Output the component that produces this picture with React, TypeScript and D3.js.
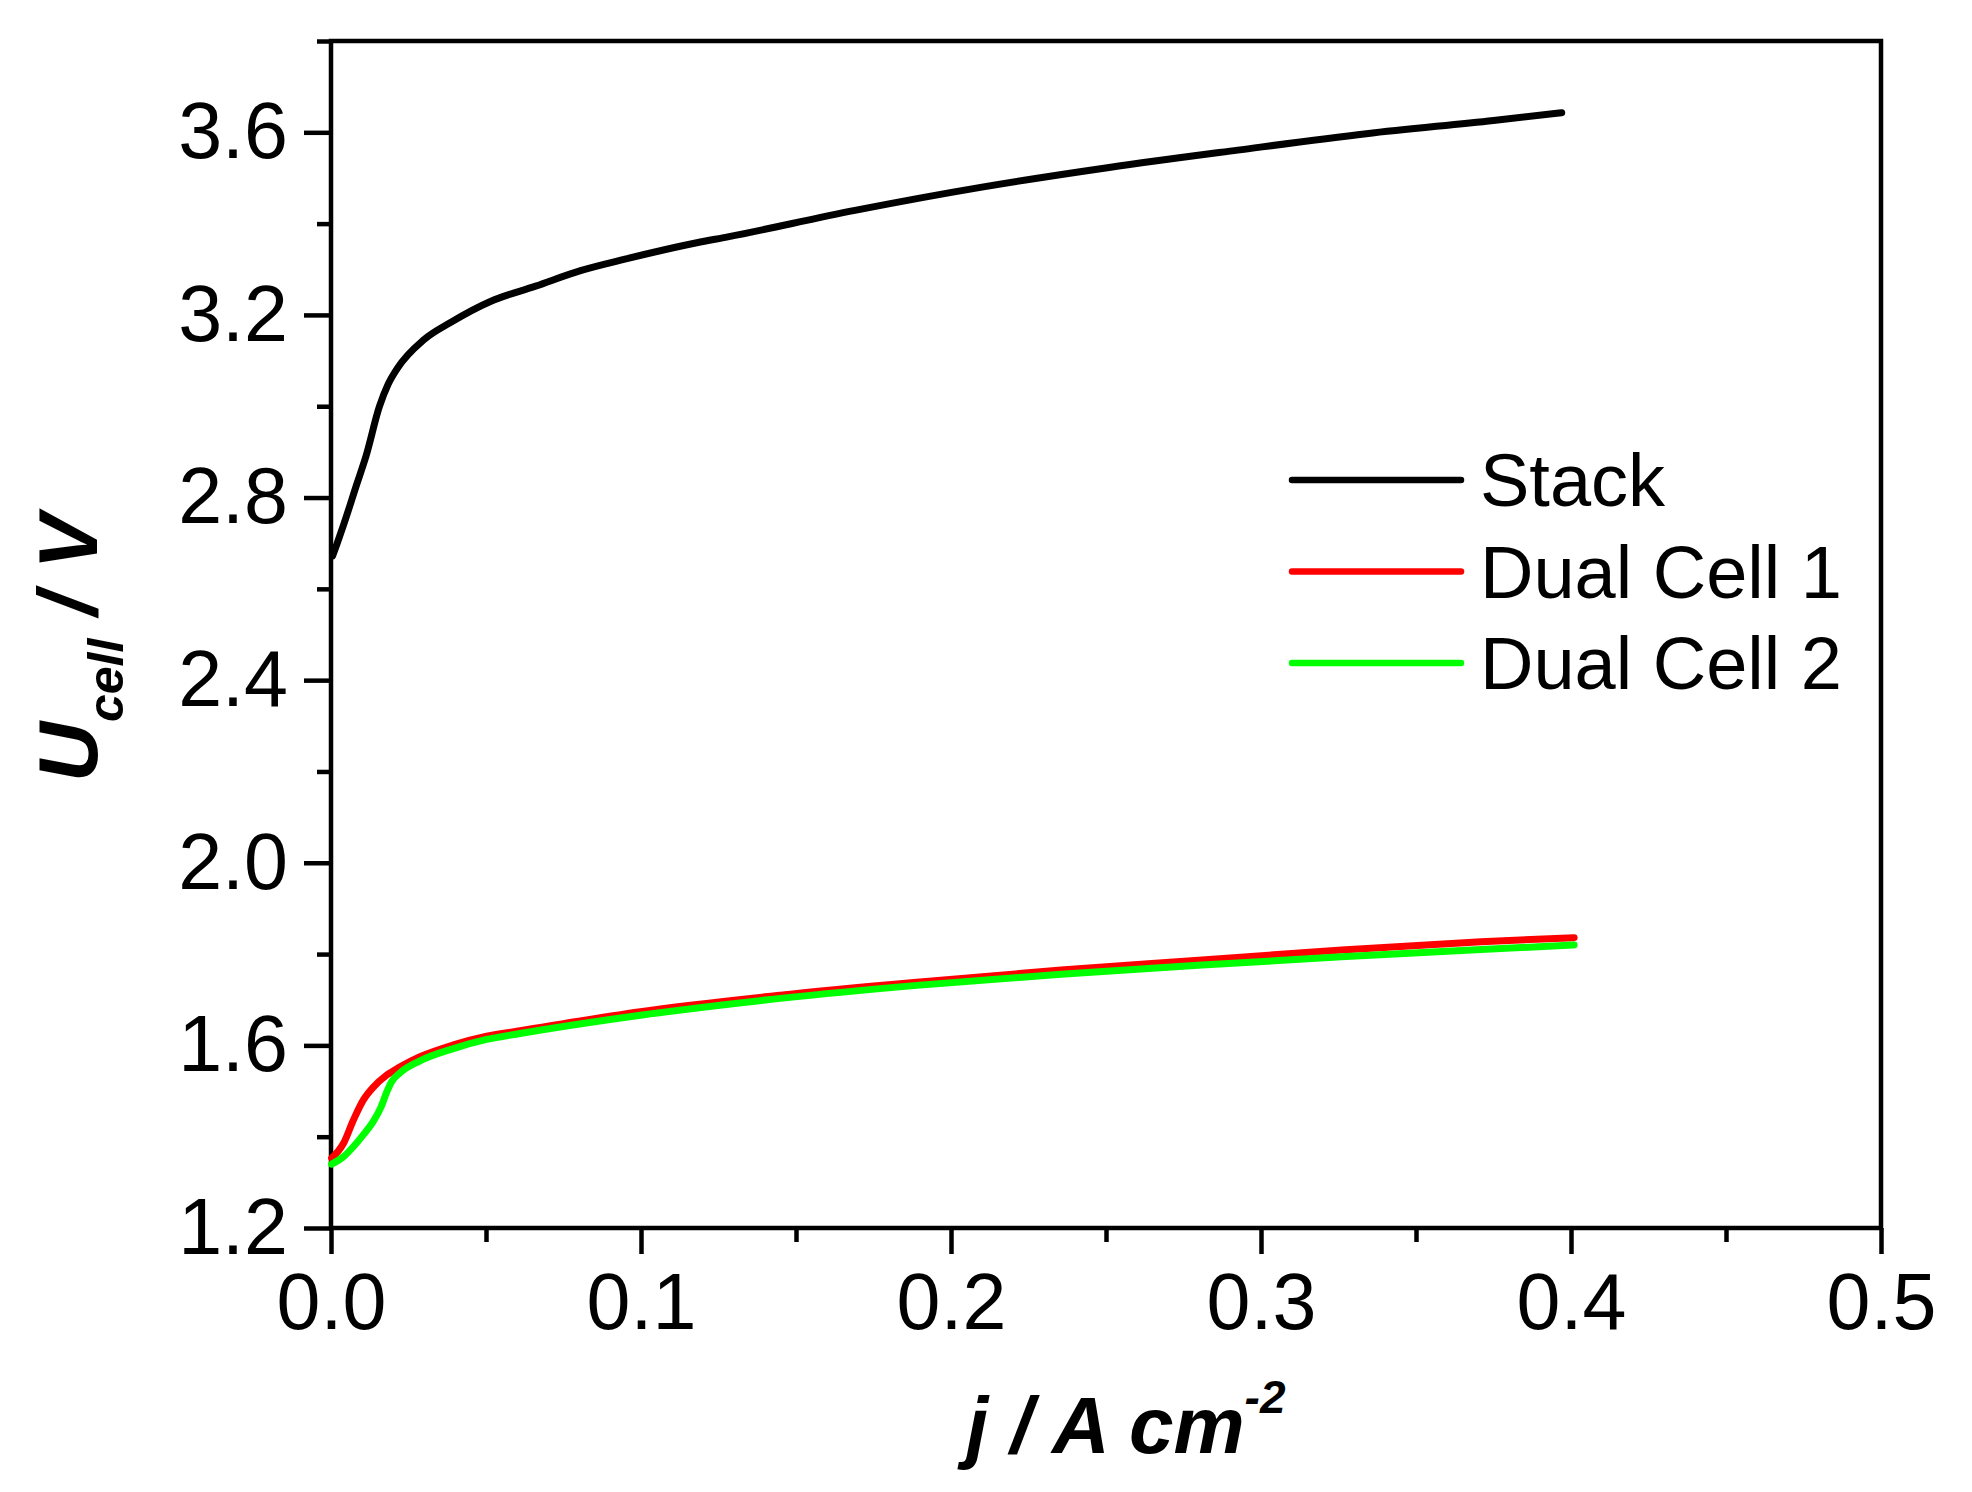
import { useEffect, useRef } from 'react';
import * as d3 from 'd3';

// Stack (black)
const stackJ = [0.0005, 0.002, 0.004, 0.0084, 0.0113, 0.0156, 0.0185, 0.0214, 0.03, 0.0387, 0.0516, 0.066, 0.0805, 0.0948, 0.118, 0.128, 0.169, 0.21, 0.251, 0.2925, 0.334, 0.375, 0.397];
const stackU = [2.672, 2.7, 2.739, 2.831, 2.891, 2.999, 3.049, 3.083, 3.146, 3.184, 3.23, 3.263, 3.297, 3.322, 3.358, 3.371, 3.429, 3.48, 3.523, 3.561, 3.597, 3.626, 3.643];

// Dual Cell 1 (red)
const cell1J = [0.0002, 0.004, 0.0072, 0.0104, 0.0136, 0.018, 0.0223, 0.0287, 0.0395, 0.0502, 0.061, 0.0998, 0.145, 0.19, 0.2355, 0.281, 0.326, 0.371, 0.401];
const cell1U = [1.353, 1.385, 1.436, 1.48, 1.508, 1.535, 1.553, 1.575, 1.601, 1.62, 1.632, 1.674, 1.71, 1.739, 1.765, 1.787, 1.809, 1.827, 1.836];

// Dual Cell 2 (green)
const cell2J = [0.0002, 0.004, 0.0072, 0.0104, 0.0136, 0.0162, 0.018, 0.0195, 0.0223, 0.0287, 0.0395, 0.0502, 0.061, 0.0998, 0.145, 0.19, 0.2355, 0.281, 0.326, 0.371, 0.401];
const cell2U = [1.34, 1.356, 1.378, 1.404, 1.433, 1.466, 1.498, 1.52, 1.54, 1.566, 1.593, 1.613, 1.626, 1.666, 1.703, 1.732, 1.756, 1.776, 1.794, 1.81, 1.82];

const seriesNames = ['Stack', 'Dual Cell 1', 'Dual Cell 2'];
const seriesColors = ['#000000', '#ff0000', '#00ff00'];

const xMajor = [0, 0.1, 0.2, 0.3, 0.4, 0.5];
const xMinor = [0.05, 0.15, 0.25, 0.35, 0.45];
const yMajor = [1.2, 1.6, 2.0, 2.4, 2.8, 3.2, 3.6];
const yMinor = [1.4, 1.8, 2.2, 2.6, 3.0, 3.4, 3.8];

const FONT = "'Liberation Sans', Arial, sans-serif";

export default function App() {
	const svgRef = useRef<SVGSVGElement>(null);

	const width = 1972;
	const height = 1492;
	const plot = { left: 331, right: 1881, top: 41, bottom: 1228 };

	useEffect(() => {
		if (!svgRef.current) return;
		const svg = d3.select(svgRef.current);
		svg.selectAll('*').remove();

		const xScale = d3.scaleLinear().domain([0, 0.5]).range([plot.left, plot.right]);
		const yScale = d3.scaleLinear().domain([1.2, 3.8]).range([plot.bottom, plot.top]);

		const styleAxis = (g: any) => {
			g.select('.domain').remove();
			g.selectAll('line').attr('stroke', '#000').attr('stroke-width', 4.5);
			g.selectAll('text')
				.attr('fill', '#000')
				.style('font-family', FONT)
				.style('font-size', '79px');
		};

		// minor ticks
		svg.append('g')
			.attr('transform', `translate(0,${plot.bottom})`)
			.call(d3.axisBottom(xScale).tickValues(xMinor).tickSize(14).tickSizeOuter(0).tickFormat(() => ''))
			.call(styleAxis);
		svg.append('g')
			.attr('transform', `translate(${plot.left},0)`)
			.call(d3.axisLeft(yScale).tickValues(yMinor).tickSize(14).tickSizeOuter(0).tickFormat(() => ''))
			.call(styleAxis);

		// major ticks
		svg.append('g')
			.attr('transform', `translate(0,${plot.bottom})`)
			.call(d3.axisBottom(xScale).tickValues(xMajor).tickSize(26).tickSizeOuter(0).tickPadding(19).tickFormat(d3.format('.1f')))
			.call(styleAxis);
		svg.append('g')
			.attr('transform', `translate(${plot.left},0)`)
			.call(d3.axisLeft(yScale).tickValues(yMajor).tickSize(27).tickSizeOuter(0).tickPadding(16).tickFormat(d3.format('.1f')))
			.call(styleAxis);

		// frame
		svg.append('rect')
			.attr('x', plot.left)
			.attr('y', plot.top)
			.attr('width', plot.right - plot.left)
			.attr('height', plot.bottom - plot.top)
			.attr('fill', 'none')
			.attr('stroke', '#000')
			.attr('stroke-width', 4.5);

		const line = d3
			.line<[number, number]>()
			.x((d) => xScale(d[0]))
			.y((d) => yScale(d[1]))
			.curve(d3.curveMonotoneX);

		const series = [
			d3.zip(stackJ, stackU),
			d3.zip(cell1J, cell1U),
			d3.zip(cell2J, cell2U),
		];

		series.forEach((pts, i) => {
			svg.append('path')
				.datum(pts as [number, number][])
				.attr('fill', 'none')
				.attr('stroke', seriesColors[i])
				.attr('stroke-width', 7)
				.attr('stroke-linecap', 'round')
				.attr('stroke-linejoin', 'round')
				.attr('d', line);
		});

		// legend
		const legend = svg.append('g');
		seriesNames.forEach((name, i) => {
			const y = 480 + i * 91.5;
			legend.append('line')
				.attr('x1', 1292)
				.attr('x2', 1461)
				.attr('y1', y)
				.attr('y2', y)
				.attr('stroke', seriesColors[i])
				.attr('stroke-width', 6.5)
				.attr('stroke-linecap', 'round');
			legend.append('text')
				.attr('x', 1480)
				.attr('y', y + 26)
				.attr('fill', '#000')
				.style('font-family', FONT)
				.style('font-size', '74px')
				.text(name);
		});

		// x axis title
		const xTitle = svg.append('text')
			.attr('x', 966)
			.attr('y', 1453)
			.attr('fill', '#000')
			.style('font-family', FONT)
			.style('font-size', '80px')
			.style('font-weight', 'bold')
			.style('font-style', 'italic');
		xTitle.append('tspan').text('j / A cm');
		xTitle.append('tspan').attr('dy', -40).style('font-size', '46px').text('-2');

		// y axis title
		const yTitle = svg.append('text')
			.attr('transform', 'translate(97,648) rotate(-90)')
			.attr('text-anchor', 'middle')
			.attr('fill', '#000')
			.style('font-family', FONT)
			.style('font-size', '83px')
			.style('font-weight', 'bold')
			.style('font-style', 'italic');
		yTitle.append('tspan').text('U');
		yTitle.append('tspan').attr('dy', 26).style('font-size', '50px').text('cell');
		yTitle.append('tspan').attr('dy', -26).text(' / V');
	}, []);

	return (
		<svg
			ref={svgRef}
			width={width}
			height={height}
			style={{ position: 'absolute', left: 0, top: 0, background: '#fff' }}
		/>
	);
}
